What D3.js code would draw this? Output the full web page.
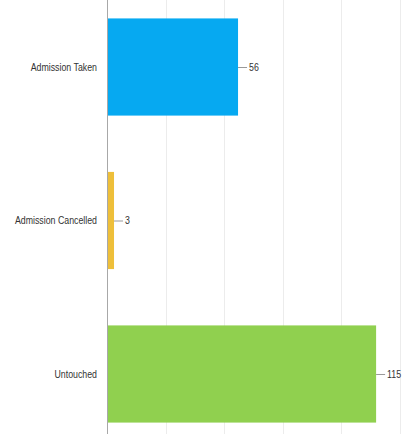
<!DOCTYPE html>
<html>
<head>
<meta charset="utf-8">
<script src="https://cdn.jsdelivr.net/npm/d3@7"></script>
<style>
  html, body { margin: 0; padding: 0; background: #fff; }
  svg { display: block; }
  .cat, .val { font-family: "Liberation Sans", Arial, sans-serif; font-size: 11px; fill: #333; }
</style>
</head>
<body>
<svg id="chart" width="409" height="434"></svg>
<script>
// Admission status counts
const categories = ["Admission Taken", "Admission Cancelled", "Untouched"];
const counts = [56, 3, 115];
const colors = ["#06a9f1", "#eebf3a", "#90d04f"];
const gridTicks = [25, 50, 75, 100, 125];

const svg = d3.select("#chart");
const W = 409, H = 434;
const left = 107;
const squeeze = 0.8; // horizontal condensing of the label glyphs

const x = d3.scaleLinear().domain([0, 125]).range([left, left + 292.5]);
const y = d3.scaleBand().domain(categories).range([0, 441]).paddingInner(0.367).paddingOuter(0.12);

// vertical grid lines
svg.append("g").selectAll("line").data(gridTicks).join("line")
  .attr("x1", d => Math.round(x(d)) + 0.5).attr("x2", d => Math.round(x(d)) + 0.5)
  .attr("y1", 0).attr("y2", H)
  .attr("stroke", "#ececec").attr("stroke-width", 1);

// bars
const data = categories.map((c, i) => ({ c, v: counts[i], col: colors[i] }));
svg.append("g").selectAll("rect").data(data).join("rect")
  .attr("x", x(0))
  .attr("y", d => y(d.c))
  .attr("width", d => x(d.v) - x(0))
  .attr("height", y.bandwidth())
  .attr("fill", d => d.col);

// leader lines and value labels
const lab = svg.append("g").selectAll("g").data(data).join("g")
  .attr("transform", d => `translate(${x(d.v)},${y(d.c) + y.bandwidth() / 2})`);
lab.append("line").attr("x1", 0).attr("x2", 9).attr("y1", 0.5).attr("y2", 0.5)
  .attr("stroke", "#999").attr("stroke-width", 1);
lab.append("text").attr("class", "val")
  .attr("transform", `scale(${squeeze},1)`)
  .attr("x", 11 / squeeze).attr("dy", "0.35em").text(d => d.v);

// category axis
const yAxis = d3.axisLeft(y).tickSize(0).tickPadding(9);
const ga = svg.append("g").attr("transform", `translate(${left},0)`).call(yAxis);
ga.select(".domain").remove();
ga.selectAll("text")
  .attr("class", "cat").attr("font-family", null).attr("font-size", null).attr("fill", null)
  .attr("transform", `scale(${squeeze},1)`)
  .attr("x", -10 / squeeze);
svg.append("line").attr("x1", left + 0.5).attr("x2", left + 0.5).attr("y1", 0).attr("y2", H)
  .attr("stroke", "#a8a8a8").attr("stroke-width", 1);
</script>
</body>
</html>
